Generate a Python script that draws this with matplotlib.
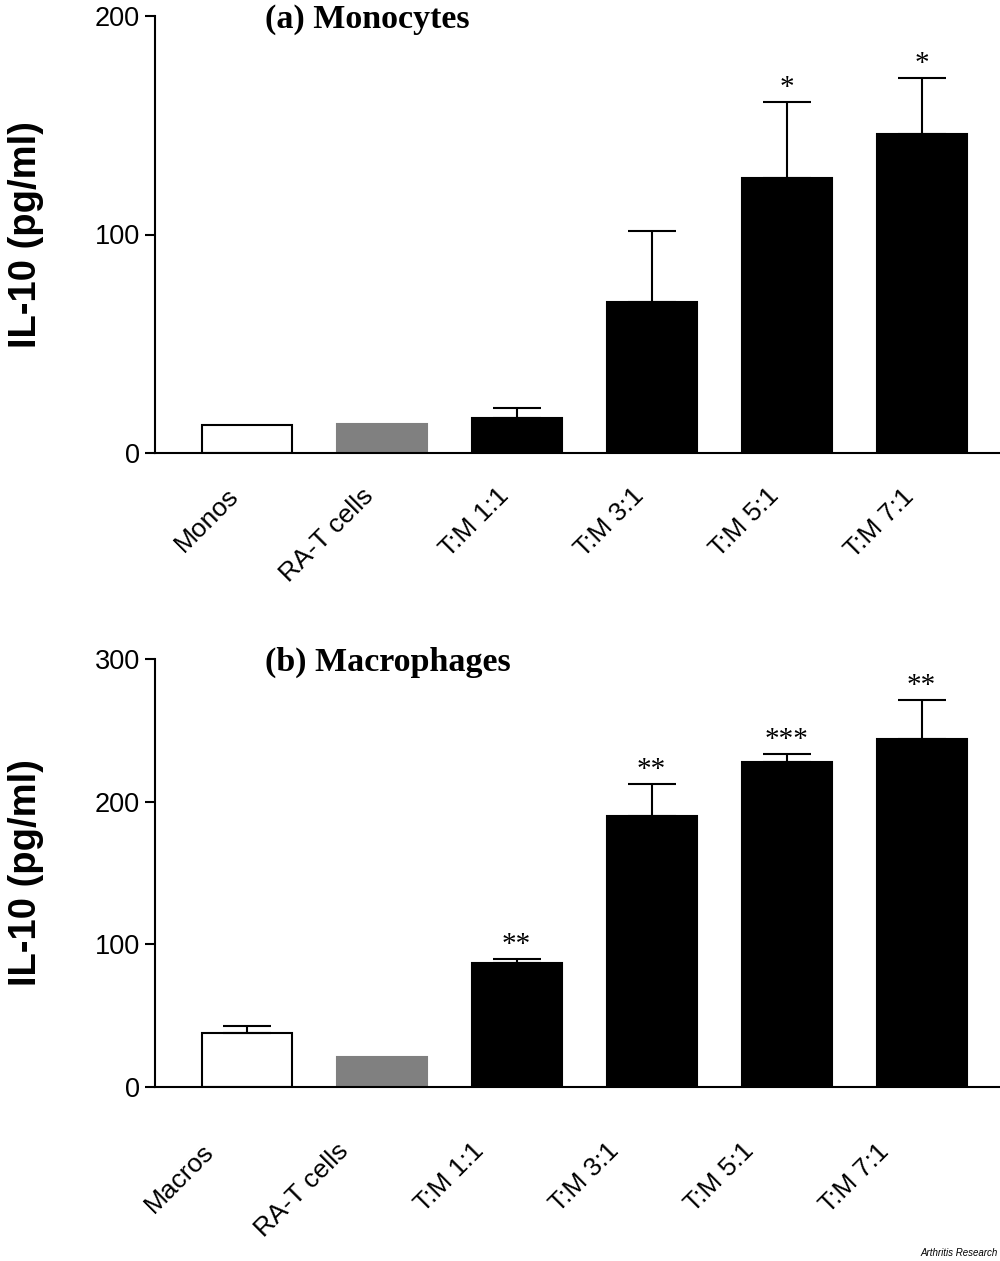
import matplotlib
matplotlib.use("Agg")
import matplotlib.pyplot as plt
from matplotlib.transforms import ScaledTranslation
import numpy as np

plt.rcParams["font.family"] = ["Liberation Sans", "DejaVu Sans"]

# data
mono_labels = ["Monos", "RA-T cells", "T:M 1:1", "T:M 3:1", "T:M 5:1", "T:M 7:1"]
mono_mean = [12.8, 13.1, 15.9, 69.2, 126.0, 145.9]
mono_err = [0, 0, 4.8, 32.5, 34.8, 25.9]
mono_stars = ["", "", "", "", "*", "*"]

macro_labels = ["Macros", "RA-T cells", "T:M 1:1", "T:M 3:1", "T:M 5:1", "T:M 7:1"]
macro_mean = [37.6, 21.3, 86.7, 190.0, 228.0, 243.7]
macro_err = [5.4, 0, 3.0, 22.4, 5.2, 27.6]
macro_stars = ["", "", "**", "**", "***", "**"]

fill = ["white", "#808080", "black", "black", "black", "black"]
edges = ["black", "#808080", "black", "black", "black", "black"]

W, H = 1000, 1261
fig = plt.figure(figsize=(W / 100, H / 100), dpi=100)


def panel(rect, labels, mean, err, stars, ymax, yticks, title, lab_dx, lab_dy):
    ax = fig.add_axes(rect)
    x = np.arange(len(mean))
    ax.bar(x, mean, width=0.667, color=fill, edgecolor=edges, linewidth=1.5, zorder=2)
    err = np.asarray(err, dtype=float)
    has = err > 0
    ax.errorbar(x[has], np.asarray(mean)[has], yerr=[np.zeros(has.sum()), err[has]],
                fmt="none", ecolor="black", elinewidth=1.5, capsize=17, capthick=1.5,
                zorder=3)
    for xi, m, e, s in zip(x, mean, err, stars):
        if s:
            ax.annotate(s, (xi, m + e), xytext=(0, 5), textcoords="offset points",
                        ha="center", va="baseline", fontsize=21,
                        family="Liberation Serif")
    ax.set_xlim(-0.678, 5.581)
    ax.set_ylim(0, ymax)
    ax.set_yticks(yticks)
    ax.set_xticks([])
    # rotated category labels, shifted left/down like the original
    off = ScaledTranslation(lab_dx / 100, lab_dy / 100, fig.dpi_scale_trans)
    tr = ax.get_xaxis_transform() + off
    for xi, lab in zip(x, labels):
        ax.text(xi, 0, lab, transform=tr, rotation=45, ha="right", va="top",
                rotation_mode="anchor", fontsize=19, clip_on=False)
    ax.tick_params(axis="y", direction="out", length=7.2, width=1.5,
                   labelsize=19.5, pad=3.6)
    for side in ("top", "right"):
        ax.spines[side].set_visible(False)
    for side in ("left", "bottom"):
        ax.spines[side].set_linewidth(1.5)
    ax.text(-0.1527, 0.5, "IL-10 (pg/ml)", transform=ax.transAxes, rotation=90,
            ha="center", va="center", fontsize=27.5, fontweight="bold")
    ax.text(0.130, 0.972, title, transform=ax.transAxes, ha="left", va="baseline",
            fontsize=24.5, fontweight="bold", family="Liberation Serif")
    return ax


panel([155 / W, 1 - 453 / H, 845 / W, 437 / H], mono_labels, mono_mean, mono_err,
      mono_stars, 200, [0, 100, 200], "(a) Monocytes", -20, -31)
panel([155 / W, 1 - 1087 / H, 845 / W, 428 / H], macro_labels, macro_mean, macro_err,
      macro_stars, 300, [0, 100, 200, 300], "(b) Macrophages", -45, -52)

fig.text(0.998, 1 - 1256 / H, "Arthritis Research", ha="right", va="baseline",
         fontsize=7, style="italic")

fig.savefig("out.png", dpi=100)
